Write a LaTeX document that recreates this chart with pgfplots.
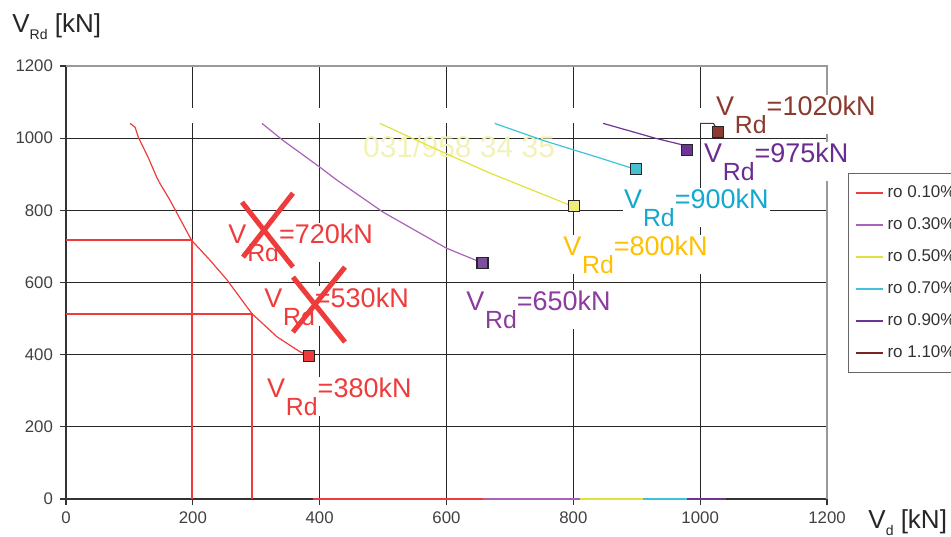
\documentclass[border=0pt]{standalone}
\usepackage{pgfplots}
\pgfplotsset{compat=1.18}
\usepackage{fontspec}
\setmainfont{Liberation Sans}
\definecolor{cRed}{HTML}{EE3B3B}
\definecolor{cPur}{HTML}{A863B8}
\definecolor{cPurM}{HTML}{7E4FA0}
\definecolor{cPurL}{HTML}{8B3C9E}
\definecolor{cYel}{HTML}{E2E23C}
\definecolor{cYelM}{HTML}{EDED7A}
\definecolor{cYelL}{HTML}{FFC000}
\definecolor{cCya}{HTML}{3EC3D8}
\definecolor{cCyaM}{HTML}{46BFD0}
\definecolor{cCyaL}{HTML}{12A8CF}
\definecolor{cDpu}{HTML}{6E3399}
\definecolor{cDpuL}{HTML}{6A2C91}
\definecolor{cBro}{HTML}{7A2222}
\definecolor{cBroM}{HTML}{8B3A30}
\definecolor{cBroL}{HTML}{8B3A2E}
\definecolor{wm}{HTML}{F2F2B8}
\newcommand\lbl[1]{V\kern0.03em\raisebox{-9pt}{\scalebox{0.92}{Rd}}=#1kN}
\pgfplotsset{sq/.style={only marks, mark=square*, mark size=2.75pt, mark options={draw=black!85, line width=0.7pt, fill=#1}}}
\begin{document}
\begin{tikzpicture}
\begin{axis}[
  scale only axis, width=380.5pt, height=216.5pt,
  xmin=0, xmax=1200, ymin=0, ymax=1200,
  xtick={0,200,...,1200}, ytick={0,200,...,1200},
  grid=major, major grid style={black!85, line width=0.5pt},
  axis x line*=bottom, axis y line*=left,
  axis line style={draw=black!80, line width=0.9pt, -},
  tick align=outside, major tick length=3pt,
  tick style={black!80, line width=0.6pt},
  ticklabel style={font=\fontsize{8.4}{10}\selectfont, text=black!75},
  /pgf/number format/assume math mode=true,
  /pgf/number format/1000 sep={},
  clip=false,
  legend style={at={(1,1)}, anchor=north west, xshift=10.5pt, yshift=-53.5pt,
    draw=black!60, line width=0.5pt, font=\fontsize{8.5}{10}\selectfont,
    text=black!80, row sep=4.6pt, inner xsep=3pt, inner ysep=4pt,
    cells={anchor=west}},
  legend image code/.code={\draw[#1, line width=1pt] (0pt,0pt) -- (13.5pt,0pt);},
]
\coordinate (O) at (rel axis cs:0,0);
\draw[black!40, line width=0.6pt] (rel axis cs:0,1) -- (rel axis cs:1,1) -- (rel axis cs:1,0);
\node[anchor=base west, text=wm, font=\fontsize{15}{18}\selectfont, inner sep=0pt] at (axis cs:468,947) {031/958 34 35};
\fill[white] (axis cs:4,1041) rectangle (axis cs:1200,1083);

\tikzset{lb/.style={anchor=base west, fill=white, inner sep=0.5pt, font=\fontsize{13.5}{16}\selectfont}}
\node[lb, text=cRed] at (axis cs:315,282.5) {\lbl{380}};
\node[lb, text=cRed] at (axis cs:254,709) {\lbl{720}};
\node[lb, text=cRed] at (axis cs:310.6,532) {\lbl{530}};
\node[lb, text=cPurL] at (axis cs:629,523.5) {\lbl{650}};
\node[lb, text=cYelL] at (axis cs:782,676) {\lbl{800}};
\node[lb, text=cCyaL] at (axis cs:878,806) {\lbl{900}};
\node[lb, text=cDpuL] at (axis cs:1004,933.5) {\lbl{975}};
\node[lb, text=cBroL] at (axis cs:1023,1063.7) {\lbl{1020}};

\addplot[cRed, line width=0.6pt] coordinates {(101,1041) (109,1030) (114,1003) (130,945) (143,892) (148,875) (164,828) (198,717) (227,662) (254,607) (293,514) (333,449) (369,408) (383,397)};
\addlegendentry{ro 0.10\%}
\addplot[cPur, line width=0.6pt] coordinates {(309,1041) (342,994) (400,920) (427,884) (500,795) (531,764) (600,695) (657,654)};
\addlegendentry{ro 0.30\%}
\addplot[cYel, line width=0.6pt] coordinates {(495,1041) (553,994) (611,948) (669,903) (795,814) (801,812)};
\addlegendentry{ro 0.50\%}
\addplot[cCya, line width=0.6pt] coordinates {(676,1041) (752,994) (842,945) (892,917) (899,914)};
\addlegendentry{ro 0.70\%}
\addplot[cDpu, line width=0.6pt] coordinates {(847,1041) (929,1000) (973,981) (979,967)};
\addlegendentry{ro 0.90\%}
\addplot[cBro, line width=0.6pt] coordinates {(1000,1041) (1021,1041) (1028,1017)};
\addlegendentry{ro 1.10\%}

\addplot[cRed, line width=0.8pt, forget plot] coordinates {(390,0) (1040,0)};
\addplot[cPur, line width=0.8pt, forget plot] coordinates {(657,0) (1040,0)};
\addplot[cYel, line width=0.8pt, forget plot] coordinates {(810,0) (1040,0)};
\addplot[cCya, line width=0.8pt, forget plot] coordinates {(910,0) (1040,0)};
\addplot[cDpu, line width=0.8pt, forget plot] coordinates {(980,0) (1040,0)};

\addplot[cRed, line width=1pt, forget plot] coordinates {(0,717) (198,717) (198,0)};
\addplot[cRed, line width=1pt, forget plot] coordinates {(0,513) (293,513) (293,0)};

\addplot[sq=cRed, forget plot] coordinates {(383,397)};
\addplot[sq=cPurM, forget plot] coordinates {(657,654)};
\addplot[sq=cYelM, forget plot] coordinates {(801,812)};
\addplot[sq=cCyaM, forget plot] coordinates {(899,914)};
\addplot[sq=cDpu, forget plot] coordinates {(979,967)};
\addplot[sq=cBroM, forget plot] coordinates {(1028,1017)};

\addplot[cRed, line width=2.5pt, forget plot] coordinates {(277.5,822.7) (357.9,642.7)};
\addplot[cRed, line width=2.5pt, forget plot] coordinates {(357.9,847.6) (279.1,670.4)};
\addplot[cRed, line width=2.5pt, forget plot] coordinates {(357.9,615) (439.9,434.9)};
\addplot[cRed, line width=2.5pt, forget plot] coordinates {(439.9,642.7) (357.9,462.6)};

\node[anchor=base west, inner sep=0pt, font=\fontsize{13}{15}\selectfont, text=black!85] at ([shift={(-27pt,16.5pt)}]rel axis cs:0,1) {V\raisebox{-3.5pt}{\fontsize{7}{8}\selectfont Rd} [kN]};
\node[anchor=base west, inner sep=0pt, font=\fontsize{13}{15}\selectfont, text=black!85] at ([shift={(20.5pt,-14.5pt)}]rel axis cs:1,0) {V\raisebox{-3.5pt}{\fontsize{7}{8}\selectfont d} [kN]};
\end{axis}
\pgfresetboundingbox
\path[use as bounding box] ([shift={(-33pt,-18.5pt)}]O) rectangle ([shift={(442.5pt,249.5pt)}]O);
\end{tikzpicture}
\end{document}
